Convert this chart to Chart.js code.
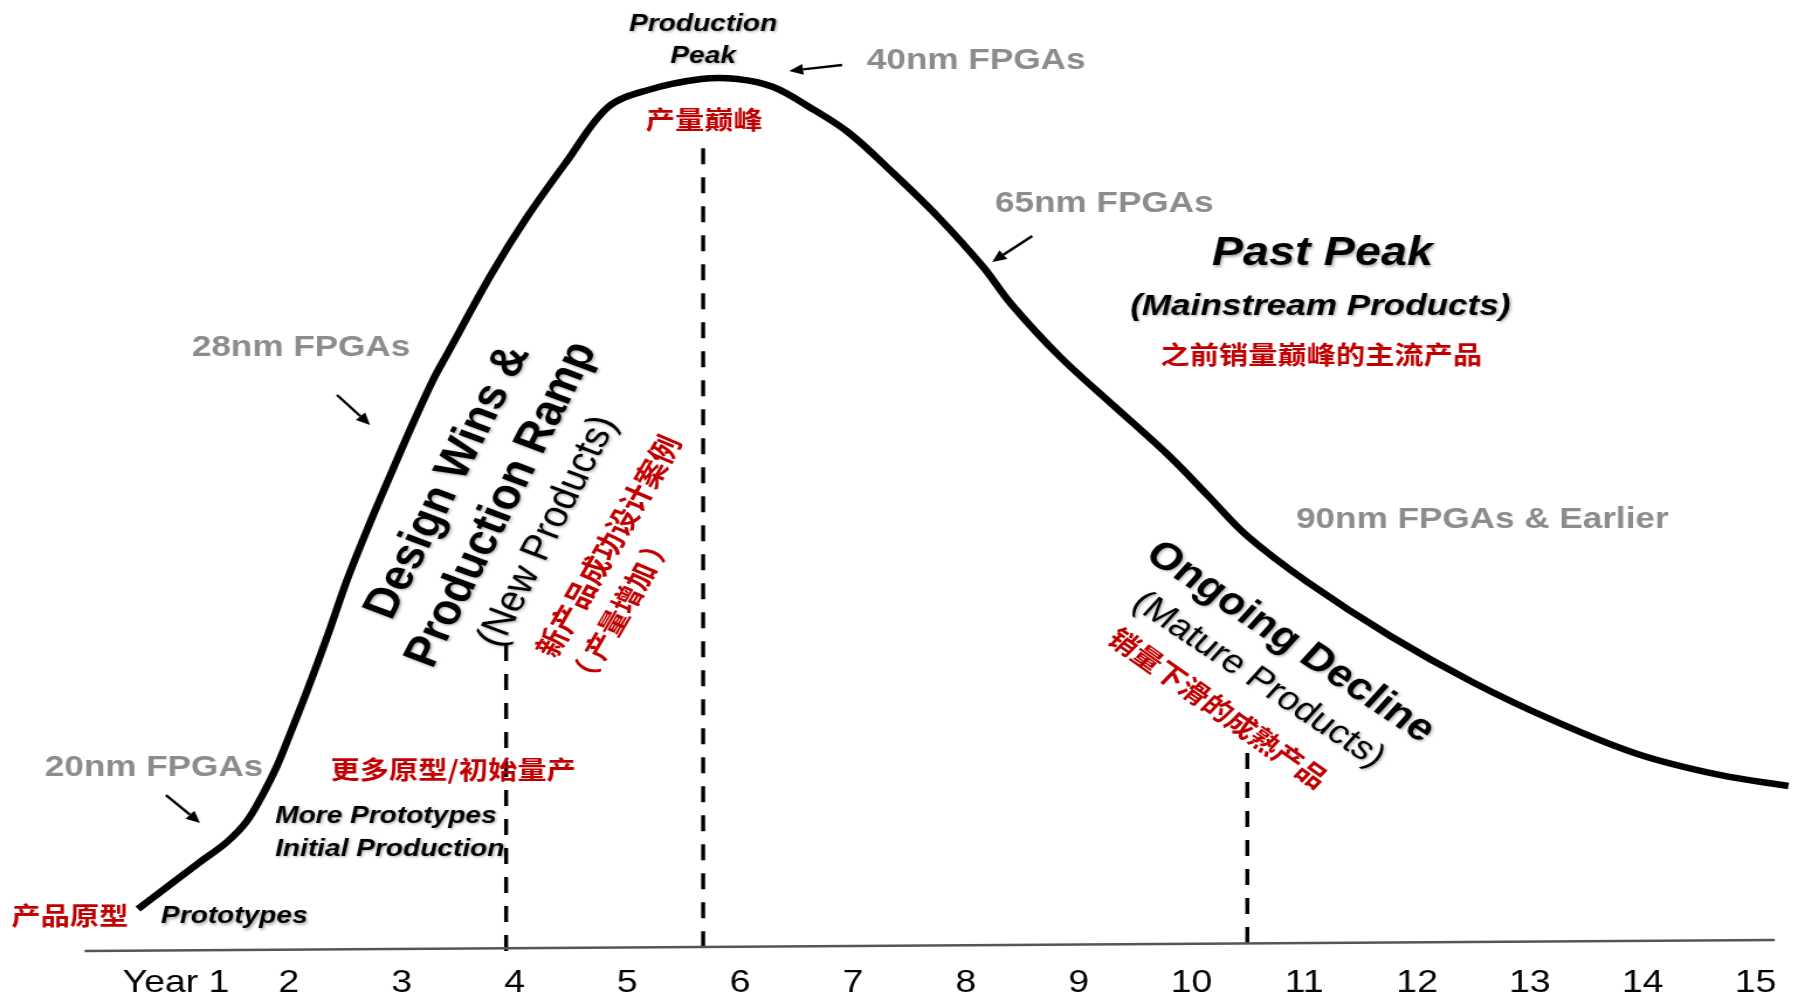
<!DOCTYPE html>
<html>
<head>
<meta charset="utf-8">
<title>FPGA product life cycle</title>
<script src="https://cdn.jsdelivr.net/npm/chart.js@4.4.1/dist/chart.umd.min.js"></script>
<style>
  html, body { margin: 0; padding: 0; background: #ffffff; width: 1812px; height: 1000px; overflow: hidden; }
  /* the drawing is laid out on a narrower canvas and widened to the page, giving the wide lettering */
  #wrap { position: absolute; left: 0; top: 0; width: 1549px; height: 1000px; transform: scaleX(1.16979); transform-origin: 0 0; }
  canvas { display: block; }
</style>
</head>
<body>
<div id="wrap"><canvas id="lifecycle" width="1549" height="1000"></canvas></div>
<script>
// Life-cycle curve: years since introduction vs. relative production volume
const years  = [0.663, 0.920, 1.213, 1.452, 1.629, 1.771, 1.895, 2.011, 2.161, 2.339, 2.516, 2.693, 2.897, 3.074, 3.278, 3.402, 3.801, 4.112, 4.466, 4.830, 5.184, 5.654, 5.973, 6.293, 6.612, 6.966, 7.356, 7.755, 8.154, 8.402, 8.837, 9.324, 9.812, 10.149, 10.495, 11.027, 11.762, 12.489, 13.216, 13.952, 14.679, 15.291];
const volume = [4.67, 7.11, 9.89, 12.11, 14.44, 17.44, 20.56, 24.11, 28.89, 34.89, 41.22, 46.78, 52.78, 57.89, 63.44, 66.3, 75.33, 81.56, 87.78, 93.78, 95.67, 96.89, 96.89, 96.0, 93.78, 90.89, 86.44, 81.56, 76.0, 71.89, 66.0, 60.44, 54.89, 50.56, 46.11, 41.0, 35.0, 29.89, 25.56, 21.89, 19.56, 18.33];

// Axis ticks
const tickYears  = [1, 2, 3, 4, 5, 6, 7, 8, 9, 10, 11, 12, 13, 14, 15];
const tickLabels = ['Year 1', '2', '3', '4', '5', '6', '7', '8', '9', '10', '11', '12', '13', '14', '15'];

// Phase boundaries (dashed drop lines) and the ground line
const markerYears = [3.926, 5.672, 10.495];
const markerTops  = [34.0, 89.2, 22.0];
const groundYears  = [0.19, 15.17];
const groundLevels = [0, 1.22];

const LATIN = "'Liberation Sans', Arial, sans-serif";
const CJK = "'Noto Sans CJK SC', 'Noto Sans CJK TC', sans-serif";
const GREY = '#8c8c8c';
const RED = '#c00000';

// Annotations, placed in chart units (year, volume)
const notes = [
  { text: 'Production', x: 5.672, y: 103.0, font: `italic bold 24px ${LATIN}`, color: '#000', shadow: true },
  { text: 'Peak', x: 5.672, y: 99.4, font: `italic bold 24px ${LATIN}`, color: '#000', shadow: true },
  { text: '产量巅峰', x: 5.681, y: 92.4, font: `bold 25px ${CJK}`, color: RED },
  { text: '40nm FPGAs', x: 8.092, y: 98.9, font: `bold 30px ${LATIN}`, color: GREY },
  { text: '65nm FPGAs', x: 9.227, y: 83.0, font: `bold 30px ${LATIN}`, color: GREY },
  { text: '28nm FPGAs', x: 2.108, y: 67.0, font: `bold 30px ${LATIN}`, color: GREY },
  { text: '20nm FPGAs', x: 0.805, y: 20.4, font: `bold 30px ${LATIN}`, color: GREY },
  { text: '90nm FPGAs & Earlier', x: 12.578, y: 47.9, font: `bold 30px ${LATIN}`, color: GREY },
  { text: 'Past Peak', x: 11.160, y: 77.4, font: `italic bold 40px ${LATIN}`, color: '#000', shadow: true },
  { text: '(Mainstream Products)', x: 11.142, y: 71.6, font: `italic bold 30px ${LATIN}`, color: '#000', shadow: true },
  { text: '之前销量巅峰的主流产品', x: 11.151, y: 66.3, font: `bold 25px ${CJK}`, color: RED },
  { text: 'More Prototypes', x: 1.878, y: 15.0, font: `italic bold 24px ${LATIN}`, color: '#000', align: 'left', shadow: true },
  { text: 'Initial Production', x: 1.878, y: 11.3, font: `italic bold 24px ${LATIN}`, color: '#000', align: 'left', shadow: true },
  { text: 'Prototypes', x: 0.867, y: 3.8, font: `italic bold 24px ${LATIN}`, color: '#000', align: 'left', shadow: true },
  { text: '产品原型', x: 0.060, y: 4.0, font: `bold 25px ${CJK}`, color: RED },
  { text: '更多原型/初始量产', x: 3.456, y: 20.2, font: `bold 25px ${CJK}`, color: RED },
  { text: 'Design Wins &', x: 3.411, y: 52.1, angle: -66.3, font: `bold 42px ${LATIN}`, color: '#000', shadow: true },
  { text: 'Production Ramp', x: 3.890, y: 49.6, angle: -66.3, font: `bold 42px ${LATIN}`, color: '#000', shadow: true },
  { text: '(New Products)', x: 4.298, y: 46.6, angle: -66.3, font: `36px ${LATIN}`, color: '#000', shadow: true },
  { text: '新产品成功设计案例', x: 4.830, y: 45.0, angle: -63.5, font: `bold 27px ${CJK}`, color: RED },
  { text: '（ 产量增加 ）', x: 4.936, y: 37.8, angle: -63.5, font: `bold 26px ${CJK}`, color: RED },
  { text: 'Ongoing Decline', x: 10.876, y: 34.3, angle: 38.0, font: `bold 38px ${LATIN}`, color: '#000', shadow: true },
  { text: '(Mature Products)', x: 10.592, y: 30.1, angle: 38.0, font: `33px ${LATIN}`, color: '#000', shadow: true },
  { text: '销量下滑的成熟产品', x: 10.238, y: 27.0, angle: 39.5, font: `bold 26px ${CJK}`, color: RED }
];

// Pointer arrows from each node label to the curve
const arrows = [
  { from: [6.904, 98.44], to: [6.434, 97.78] },
  { from: [8.589, 79.44], to: [8.234, 76.56] },
  { from: [2.427, 61.78], to: [2.720, 58.44] },
  { from: [0.911, 17.33], to: [1.213, 14.22] }
];

const annotate = {
  id: 'annotate',
  afterDatasetsDraw(chart) {
    const { ctx } = chart;
    const sx = chart.scales.x, sy = chart.scales.y;
    ctx.save();
    ctx.strokeStyle = '#000';
    ctx.fillStyle = '#000';
    ctx.lineWidth = 2.4;
    for (const a of arrows) {
      const x1 = sx.getPixelForValue(a.from[0]), y1 = sy.getPixelForValue(a.from[1]);
      const x2 = sx.getPixelForValue(a.to[0]), y2 = sy.getPixelForValue(a.to[1]);
      const ang = Math.atan2(y2 - y1, x2 - x1);
      const head = 12, half = 5.5;
      const bx = x2 - head * Math.cos(ang), by = y2 - head * Math.sin(ang);
      ctx.beginPath(); ctx.moveTo(x1, y1); ctx.lineTo(bx, by); ctx.stroke();
      ctx.beginPath();
      ctx.moveTo(x2, y2);
      ctx.lineTo(bx + half * Math.sin(ang), by - half * Math.cos(ang));
      ctx.lineTo(bx - half * Math.sin(ang), by + half * Math.cos(ang));
      ctx.closePath(); ctx.fill();
    }
    for (const t of notes) {
      ctx.save();
      ctx.translate(sx.getPixelForValue(t.x), sy.getPixelForValue(t.y));
      ctx.rotate((t.angle || 0) * Math.PI / 180);
      ctx.font = t.font;
      ctx.fillStyle = t.color;
      ctx.textAlign = t.align || 'center';
      ctx.textBaseline = 'middle';
      if (t.shadow) {
        ctx.shadowColor = 'rgba(0,0,0,0.35)';
        ctx.shadowBlur = 3;
        ctx.shadowOffsetX = 1.2;
        ctx.shadowOffsetY = 1.2;
      }
      ctx.fillText(t.text, 0, 0);
      ctx.restore();
    }
    ctx.restore();
  }
};

const curve = years.map((v, i) => ({ x: v, y: volume[i] }));
const ground = groundYears.map((v, i) => ({ x: v, y: groundLevels[i] }));
const dropLines = markerYears.map((v, i) => ({
  data: [{ x: v, y: markerTops[i] }, { x: v, y: 0 }],
  borderColor: '#000',
  borderWidth: 3.4,
  borderDash: [16, 13],
  pointRadius: 0,
  tension: 0,
  clip: false
}));

new Chart(document.getElementById('lifecycle'), {
  type: 'line',
  data: {
    datasets: [
      { data: ground, borderColor: '#555555', borderWidth: 2.6, pointRadius: 0, tension: 0, clip: false },
      ...dropLines,
      { data: curve, borderColor: '#000000', borderWidth: 6.5, pointRadius: 0, tension: 0.35, borderCapStyle: 'butt', borderJoinStyle: 'round', clip: false }
    ]
  },
  options: {
    responsive: false,
    animation: false,
    devicePixelRatio: 1,
    parsing: false,
    layout: { padding: { left: 54, right: 0, top: 51, bottom: 0 } },
    plugins: { legend: { display: false }, tooltip: { enabled: false } },
    events: [],
    scales: {
      x: {
        type: 'linear',
        min: 0,
        max: 15.5,
        grid: { display: false, drawTicks: false },
        border: { display: false },
        afterBuildTicks: (scale) => { scale.ticks = tickYears.map(v => ({ value: v })); },
        afterFit: (scale) => { scale.height = 49; },
        ticks: {
          autoSkip: false,
          maxRotation: 0,
          padding: 13,
          color: '#000',
          font: { family: LATIN, size: 32 },
          callback: (value, index) => tickLabels[index]
        }
      },
      y: { type: 'linear', min: 0, max: 100, display: false }
    }
  },
  plugins: [annotate]
});
</script>
</body>
</html>
